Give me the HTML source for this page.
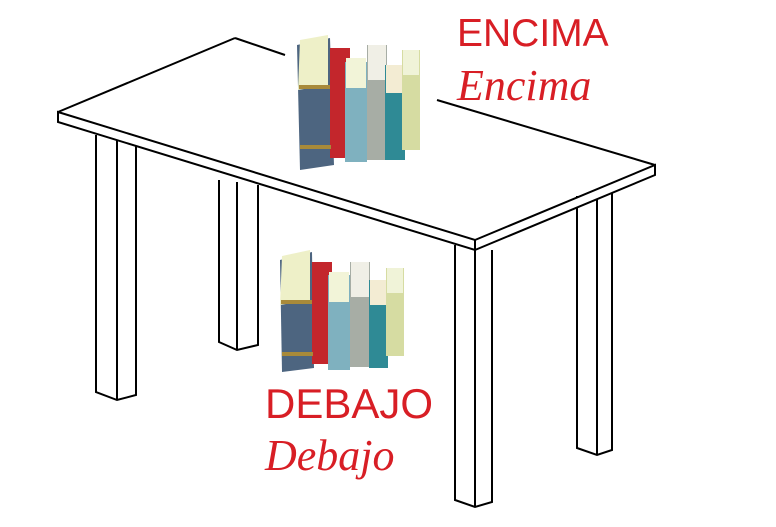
<!DOCTYPE html>
<html><head><style>
body{margin:0;width:776px;height:527px;background:#fff;overflow:hidden;position:relative;font-family:"Liberation Sans",sans-serif}
.t{position:absolute;color:#d81e25;white-space:nowrap}
</style></head><body>
<svg width="776" height="527" style="position:absolute;left:0;top:0" fill="none" stroke="#000" stroke-width="2">
<g fill="#fff">
<path d="M96 135 L96 392 L117 400 L136 395 L136 140"/><line x1="117" y1="140" x2="117" y2="400"/>
<path d="M219 180 L219 342 L237 350 L258 345 L258 185"/><line x1="237" y1="182" x2="237" y2="350"/>
<path d="M455 245 L455 500 L475 507 L492 502 L492 250"/><line x1="475" y1="250" x2="475" y2="507"/>
<path d="M577 196 L577 448 L597 455 L612 450 L612 192"/><line x1="597" y1="194" x2="597" y2="455"/>
<path d="M58 112 L475 240 L655 165 L655 175 L475 250 L58 122 Z"/>
</g>
<line x1="58" y1="112" x2="235" y2="38"/>
<line x1="235" y1="38" x2="285" y2="55"/>
<line x1="437" y1="100" x2="655" y2="165"/>
<line x1="475" y1="240" x2="475" y2="250"/>
<g stroke="none">
<path d="M297 45 L330 38 L334 165 L300 170 Z" fill="#4d6580"/>
<path d="M300 40 L328 35 L328 85 L298 90 Z" fill="#eef0c8"/>
<rect x="330" y="48" width="20" height="110" fill="#c3262c"/>
<rect x="345" y="62" width="22" height="100" fill="#7fb1bf"/>
<rect x="346" y="58" width="20" height="30" fill="#f2f4d8"/>
<rect x="367" y="45" width="20" height="115" fill="#a7ada5"/>
<rect x="368" y="45" width="18" height="35" fill="#f0efe6"/>
<rect x="385" y="65" width="20" height="95" fill="#2f8a95"/>
<rect x="386" y="65" width="18" height="28" fill="#f3ecd3"/>
<rect x="402" y="50" width="18" height="100" fill="#d6dca2"/>
<rect x="403" y="50" width="16" height="25" fill="#f0f3d8"/>
<rect x="299" y="85" width="31" height="4" fill="#a88a3a"/>
<rect x="300" y="145" width="31" height="4" fill="#a88a3a"/>
</g>
<g stroke="none">
<path d="M280 260 L312 252 L314 368 L282 372 Z" fill="#4d6580"/>
<path d="M282 256 L310 250 L310 300 L280 305 Z" fill="#eef0c8"/>
<rect x="312" y="262" width="20" height="102" fill="#c3262c"/>
<rect x="328" y="275" width="22" height="95" fill="#7fb1bf"/>
<rect x="329" y="272" width="20" height="30" fill="#f2f4d8"/>
<rect x="350" y="262" width="20" height="105" fill="#a7ada5"/>
<rect x="351" y="262" width="18" height="35" fill="#f0efe6"/>
<rect x="369" y="280" width="19" height="88" fill="#2f8a95"/>
<rect x="370" y="280" width="17" height="25" fill="#f3ecd3"/>
<rect x="386" y="268" width="18" height="88" fill="#d6dca2"/>
<rect x="387" y="268" width="16" height="25" fill="#f0f3d8"/>
<rect x="281" y="300" width="31" height="4" fill="#a88a3a"/>
<rect x="282" y="352" width="31" height="4" fill="#a88a3a"/>
</g>
</svg>
<div class="t" style="left:457px;top:12px;font-size:39px">ENCIMA</div>
<div class="t" style="left:457px;top:60px;font-size:44px;font-family:'Liberation Serif',serif;font-style:italic">Encima</div>
<div class="t" style="left:265px;top:380px;font-size:42px">DEBAJO</div>
<div class="t" style="left:265px;top:430px;font-size:44px;font-family:'Liberation Serif',serif;font-style:italic">Debajo</div>
</body></html>
